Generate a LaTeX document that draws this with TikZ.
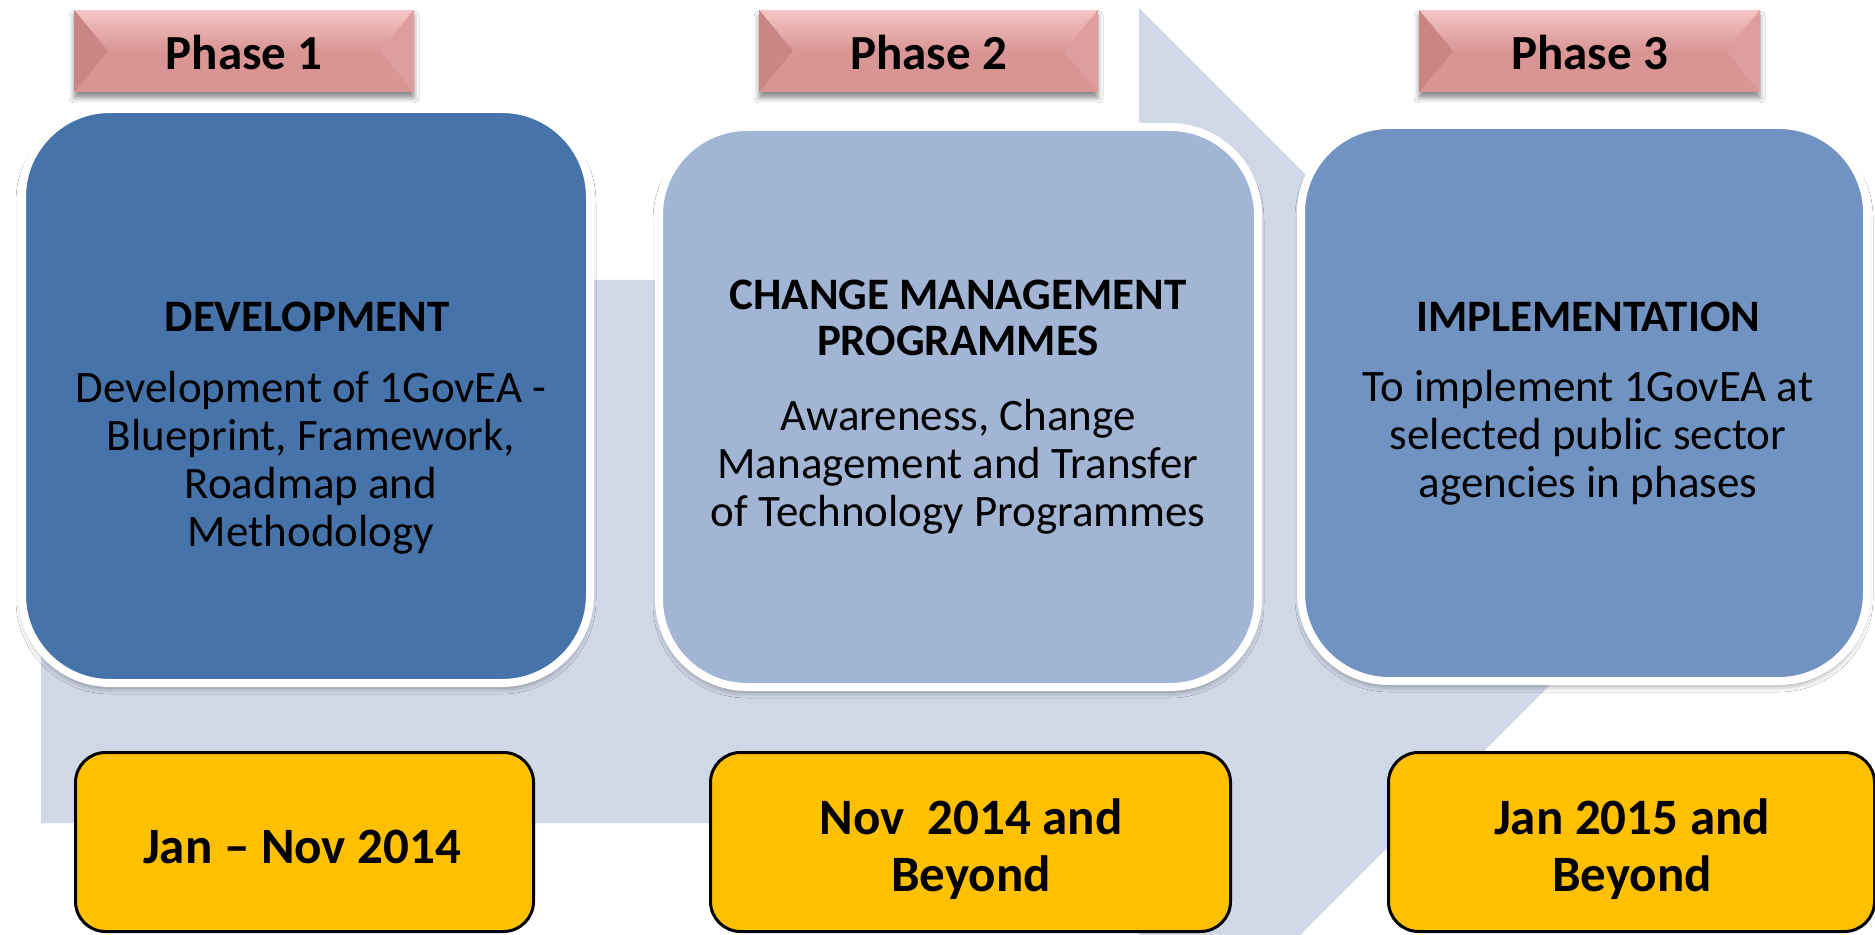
\documentclass[tikz,border=0pt]{standalone}
\usepackage{fontspec}
\setmainfont{Carlito}
\usetikzlibrary{shadows.blur}
\definecolor{bandc}{HTML}{D0D7E7}
\definecolor{boxa}{HTML}{4674AA}
\definecolor{boxb}{HTML}{A2B5D5}
\definecolor{boxc}{HTML}{7193C2}
\definecolor{yel}{HTML}{FFC000}
\definecolor{phmid}{HTML}{D99594}
\definecolor{phtop}{HTML}{F4C6C5}
\definecolor{phleft}{HTML}{C98685}
\definecolor{phright}{HTML}{DE9E9D}
\tikzset{
  bluebox/.style={draw=white, line width=4pt, rounded corners=44pt, inner sep=0pt,
    blur shadow={shadow xshift=0pt, shadow yshift=-2.5pt, shadow blur radius=3pt, shadow opacity=40}},
  datebox/.style={draw=black, fill=yel, line width=1.5pt, rounded corners=15pt, inner sep=0pt,
    minimum height=89.5pt},
  datetext/.style={font=\bfseries\fontsize{25.5}{28.5}\selectfont, align=center, text=black, inner sep=0pt},
  titletext/.style={font=\bfseries\fontsize{22.5}{23}\selectfont, align=center, text=black, inner sep=0pt},
  bodytext/.style={font=\fontsize{22.5}{24}\selectfont, align=center, text=black, inner sep=0pt},
  phtext/.style={font=\bfseries\fontsize{24.5}{26}\selectfont, text=black, inner sep=0pt},
}
\newcommand\phaselab[4]{%
  \path[fill=phmid, blur shadow={shadow xshift=0pt, shadow yshift=-3pt, shadow blur radius=2.5pt, shadow opacity=45}] (#2,10) rectangle (#3,92);
  \shade[top color=phtop, bottom color=phmid] (#2,10) -- (#3,10) -- (#3-34,51) -- (#2+34,51) -- cycle;
  \fill[phleft] (#2,10) -- (#2+34,51) -- (#2,92) -- cycle;
  \fill[phright] (#3,10) -- (#3-34,51) -- (#3,92) -- cycle;
  \node[phtext] (#1) at ({(#2+#3)/2},52) {#4};
}
\begin{document}
\begin{tikzpicture}[x=0.5pt,y=-0.5pt]
\useasboundingbox (0,0) rectangle (1875,935);
\clip (0,0) rectangle (1875,935);
\fill[white] (0,0) rectangle (1875,935);
% background arrow
\fill[bandc] (41,280) -- (1139,280) -- (1139,8) -- (1683,552) -- (1139,1096) -- (1139,823) -- (41,823) -- cycle;
% phase labels
\phaselab{p1}{74}{414}{Phase 1}
\phaselab{p2}{759}{1098}{Phase 2}
\phaselab{p3}{1419}{1760}{Phase 3}
% main boxes
\node[bluebox, fill=boxa, minimum width=284pt, minimum height=287pt] (b1) at (306,396) {};
\node[bluebox, fill=boxb, minimum width=299.5pt, minimum height=280pt] (b2) at (958.5,407) {};
\node[bluebox, fill=boxc, minimum width=283pt, minimum height=278pt] (b3) at (1584,403) {};
% box texts
\node[titletext] (t1) at (307,317) {DEVELOPMENT};
\node[bodytext] (d1) at (311,463) {Development of 1GovEA -\\Blueprint, Framework,\\Roadmap and\\Methodology};
\node[titletext] (t2) at (958,318) {CHANGE MANAGEMENT\\PROGRAMMES};
\node[bodytext] (d2) at (958,467) {Awareness, Change\\Management and Transfer\\of Technology Programmes};
\node[titletext] (t3) at (1588,317) {IMPLEMENTATION};
\node[bodytext] (d3) at (1588,438) {To implement 1GovEA at\\selected public sector\\agencies in phases};
% date boxes
\node[datebox, minimum width=229pt] (y1) at (304.5,842) {};
\node[datebox, minimum width=260pt] (y2) at (970.5,842) {};
\node[datebox, minimum width=243pt] (y3) at (1631.5,842) {};
\node[datetext] (yt1) at (302,847) {Jan -- Nov 2014};
\node[datetext] (yt2) at (971,849) {Nov\ \ 2014 and\\Beyond};
\node[datetext] (yt3) at (1632,849) {Jan 2015 and\\Beyond};
\end{tikzpicture}
\end{document}
